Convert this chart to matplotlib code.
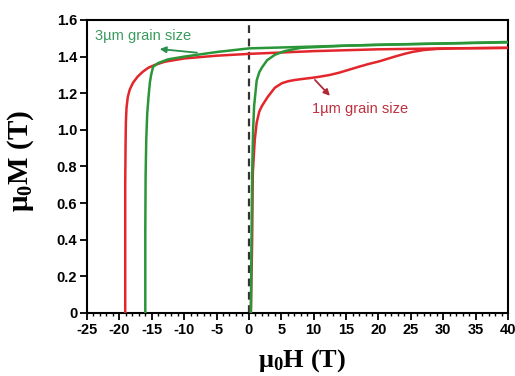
import matplotlib
matplotlib.use("Agg")
import matplotlib.pyplot as plt
from matplotlib.ticker import MultipleLocator, FixedLocator

# ---- data ----
red_desc_H = [40, 30, 20, 10, 0, -5, -10, -13, -14.5, -15.5, -16.4, -17.2, -17.9, -18.4, -18.7, -18.9, -19.0, -19.05, -19.1, -19.1]
red_desc_M = [1.448, 1.445, 1.44, 1.43, 1.415, 1.405, 1.39, 1.372, 1.355, 1.34, 1.317, 1.29, 1.257, 1.22, 1.18, 1.12, 1.04, 0.90, 0.70, 0.0]

red_init_H = [0.3, 0.4, 0.5, 0.6, 0.9, 1.2, 1.6, 2.0, 2.9, 4.0, 5.1, 6.0, 7.0, 8.5, 9.9, 11.2, 12.5, 14.0, 15.6, 17.0, 18.5, 20.2, 22.5, 24.0, 25.3, 27.0, 29.0, 32.0, 40.0]
red_init_M = [0.0, 0.2, 0.40, 0.765, 0.945, 1.04, 1.10, 1.13, 1.18, 1.23, 1.255, 1.265, 1.272, 1.279, 1.285, 1.292, 1.30, 1.313, 1.33, 1.345, 1.36, 1.375, 1.40, 1.415, 1.426, 1.436, 1.442, 1.445, 1.448]

green_desc_H = [40, 30, 20, 10, 0, -5, -10, -12.5, -14.0, -14.8, -15.1, -15.3, -15.5, -15.7, -15.85, -15.95, -16.0, -16.0]
green_desc_M = [1.48, 1.472, 1.465, 1.455, 1.445, 1.425, 1.40, 1.385, 1.365, 1.344, 1.30, 1.257, 1.18, 1.09, 0.95, 0.75, 0.45, 0.0]

green_init_H = [0.3, 0.4, 0.5, 0.65, 0.8, 1.2, 1.6, 2.0, 2.8, 4.0, 5.5, 8.0, 15.0, 25.0, 40.0]
green_init_M = [0.0, 0.4, 0.765, 1.0, 1.13, 1.27, 1.315, 1.34, 1.38, 1.41, 1.43, 1.448, 1.46, 1.468, 1.478]

x_ticks = [-25, -20, -15, -10, -5, 0, 5, 10, 15, 20, 25, 30, 35, 40]
y_ticks = [0, 0.2, 0.4, 0.6, 0.8, 1.0, 1.2, 1.4, 1.6]
y_ticklabels = ["0", "0.2", "0.4", "0.6", "0.8", "1.0", "1.2", "1.4", "1.6"]

RED = "#e3262b"
GREEN = "#2a9638"

plt.rcParams["axes.unicode_minus"] = False
plt.rcParams["mathtext.fontset"] = "custom"
plt.rcParams["mathtext.rm"] = "Liberation Serif:bold"
plt.rcParams["mathtext.bf"] = "Liberation Serif:bold"
plt.rcParams["mathtext.it"] = "Liberation Serif:bold"

fig = plt.figure(figsize=(5.15, 3.76), dpi=100)
ax = fig.add_axes([87/515, 63/376, 421/515, 293/376])

ax.axvline(0, color="#333333", lw=1.6, ls=(0, (3.5, 2.5)), zorder=1)

ax.plot(red_desc_H, red_desc_M, color=RED, lw=1.8, zorder=3)
ax.plot(red_init_H, red_init_M, color=RED, lw=1.8, zorder=3)
ax.plot(green_desc_H, green_desc_M, color=GREEN, lw=1.8, zorder=4)
ax.plot(green_init_H, green_init_M, color=GREEN, lw=1.8, zorder=4)

ax.set_xlim(-25, 40)
ax.set_ylim(0, 1.6)
ax.xaxis.set_major_locator(FixedLocator(x_ticks))
ax.xaxis.set_minor_locator(MultipleLocator(1))
ax.yaxis.set_major_locator(FixedLocator(y_ticks))
ax.set_yticklabels(y_ticklabels)

for s in ax.spines.values():
    s.set_linewidth(1.5)

ax.tick_params(axis="both", which="major", direction="out", length=5, width=1.3,
               labelsize=10.5, pad=2)
ax.tick_params(axis="x", which="minor", direction="out", length=2.5, width=1.0)
for lab in ax.get_xticklabels() + ax.get_yticklabels():
    lab.set_fontfamily("Liberation Sans")
    lab.set_fontweight("bold")

ax.set_xlabel(r"μ$_0$H (T)", fontfamily="Liberation Serif", fontweight="bold",
              fontsize=19)
ax.xaxis.set_label_coords(0.51, -0.118)
ax.set_ylabel(r"μ$_0$M (T)", fontfamily="Liberation Serif", fontweight="bold",
              fontsize=21)
ax.yaxis.set_label_coords(-0.122, 0.519)

ax.annotate("", xy=(-14.2, 1.443), xytext=(-7.6, 1.42),
            arrowprops=dict(arrowstyle="-|>", color="#2a8f4a", lw=1.3,
                            mutation_scale=9))
ax.text(-23.8, 1.51, "3µm grain size", color="#3a9a5e", fontsize=10.5,
        fontfamily="Liberation Sans", va="center", ha="left")

ax.annotate("", xy=(12.8, 1.175), xytext=(9.9, 1.284),
            arrowprops=dict(arrowstyle="-|>", color="#b02a35", lw=1.3,
                            mutation_scale=9))
ax.text(9.7, 1.115, "1µm grain size", color="#c0303f", fontsize=10.5,
        fontfamily="Liberation Sans", va="center", ha="left")

fig.savefig("out.png", dpi=100)
